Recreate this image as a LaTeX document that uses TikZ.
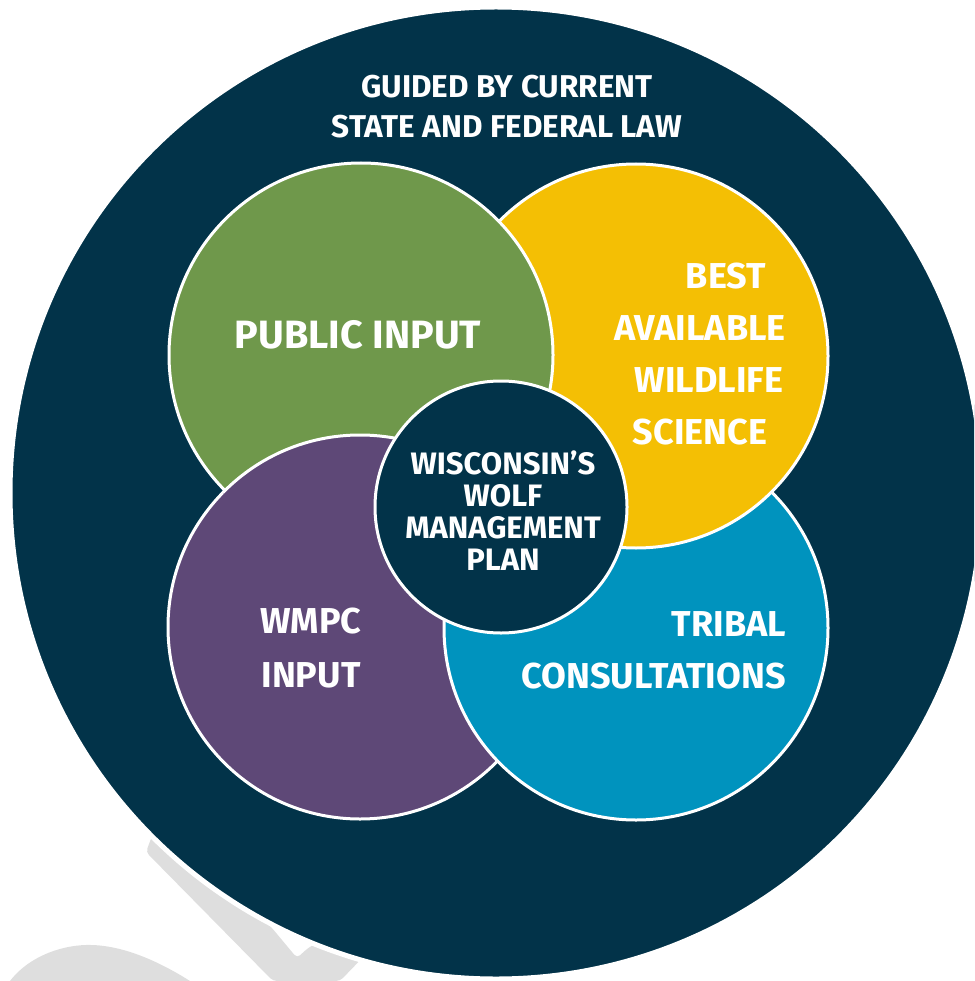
\documentclass[tikz,border=0pt]{standalone}
\usepackage{fontspec}
\setmainfont{Fira Sans}
\definecolor{lawnavy}{HTML}{023349}
\definecolor{publicgreen}{HTML}{6F984B}
\definecolor{scienceyellow}{HTML}{F4BF04}
\definecolor{tribalblue}{HTML}{0093BE}
\definecolor{wmpcpurple}{HTML}{5E4877}
\definecolor{markgray}{HTML}{DEDEDE}

\tikzset{
    disc/.style={circle, draw=white, line width=3pt, minimum size=384pt, inner sep=0pt},
    txt/.style={text=white, inner sep=0pt, font=\bfseries}
}

\begin{document}
\begin{tikzpicture}[x=1pt, y=-1pt]

    \useasboundingbox (0,0) rectangle (974,981);
    \clip (0,0) rectangle (974,981);

    % Faint mark behind the outer ring
    \fill[markgray, rounded corners=4pt] (152,836) -- (146,852) -- (273,981) -- (340,981) -- (368,952)
        -- (330,935) -- (308,948) -- (297,958) -- (272,928) -- (230,888) -- cycle;
    \fill[markgray] (10,981) .. controls (30,955) and (65,944) .. (92,945)
        .. controls (125,946) and (160,962) .. (190,981) -- cycle;

    % Outer ring: the law
    \node[circle, fill=lawnavy, draw=white, line width=5pt, minimum size=972pt, inner sep=0pt]
        (law) at (496,493) {};

    % Four inputs
    \node[disc, fill=wmpcpurple]    (wmpc)    at (360,627) {};
    \node[disc, fill=tribalblue]    (tribal)  at (636,628) {};
    \node[disc, fill=scienceyellow] (science) at (636,356) {};
    \node[disc, fill=publicgreen]   (public)  at (361,355) {};

    % WMPC lies over public input
    \begin{scope}
        \clip (public.center) circle (195pt);
        \node[disc, fill=wmpcpurple] (wmpctop) at (wmpc.center) {};
    \end{scope}

    % The plan in the middle
    \node[circle, fill=lawnavy, draw=white, line width=3pt, minimum size=252pt, inner sep=0pt]
        (plan) at (501,507) {};

    % Labels
    \node[txt, align=center, font=\bfseries\fontsize{31.5}{40}\selectfont] (lawtext) at (507,107)
        {GUIDED BY CURRENT\\STATE AND FEDERAL LAW};
    \node[txt, font=\bfseries\fontsize{39.5}{46}\selectfont] (publictext) at (358,335) {PUBLIC INPUT};
    \node[txt, align=center, font=\bfseries\fontsize{36}{52}\selectfont] (sciencetext) at (700,354)
        {\hspace*{52pt}BEST\\AVAILABLE\\\hspace*{18pt}WILDLIFE\\SCIENCE};
    \node[txt, align=center, font=\bfseries\fontsize{36}{54}\selectfont] (wmpctext) at (311,648)
        {WMPC\\INPUT};
    \node[txt, align=right, anchor=east, font=\bfseries\fontsize{36}{52}\selectfont] (tribaltext) at (786,650)
        {TRIBAL\\CONSULTATIONS};
    \node[txt, align=center, font=\bfseries\fontsize{31}{32}\selectfont] (plantext) at (503,511)
        {WISCONSIN’S\\WOLF\\MANAGEMENT\\PLAN};

\end{tikzpicture}
\end{document}
